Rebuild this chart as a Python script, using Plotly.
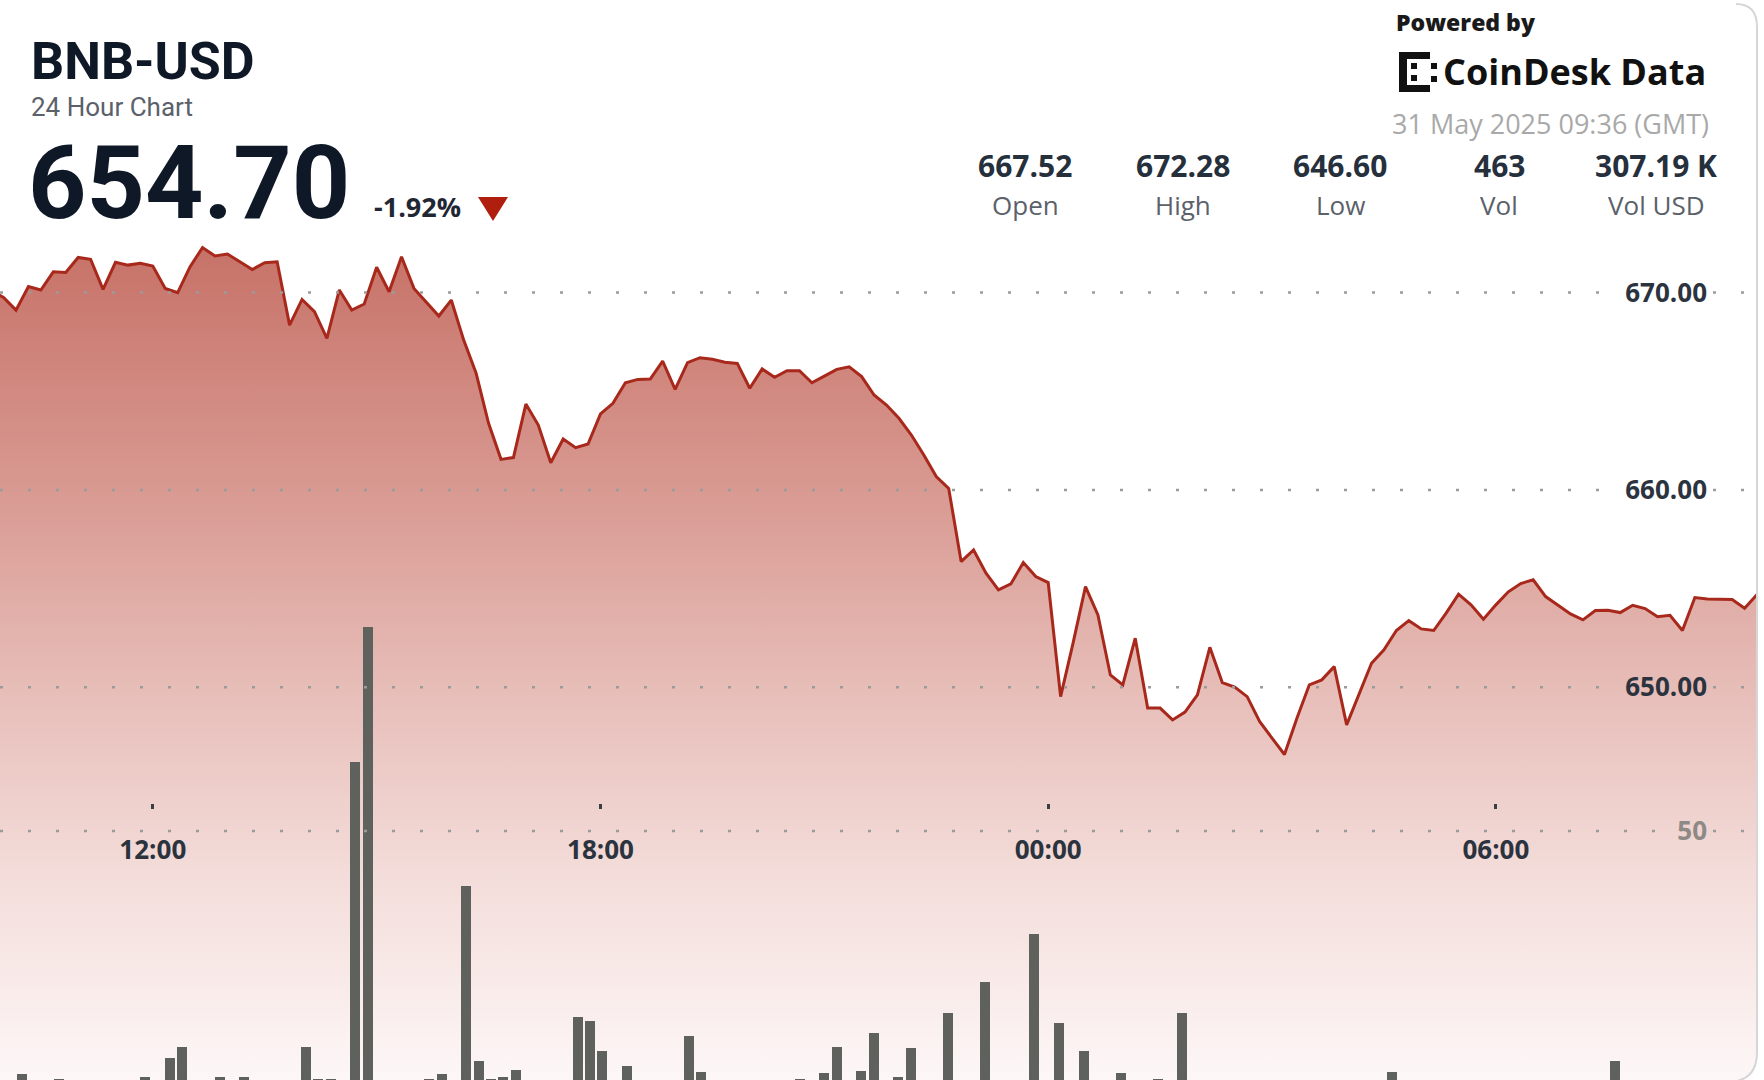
import plotly.graph_objects as go
import pandas as pd

# ---------------- data ----------------
PRICE_START = "2025-05-30 09:50"
PRICE_STEP = "10min"
PRICE = [
    670.10, 669.75,
    669.11, 670.30, 670.13, 671.05, 671.02, 671.78, 671.68, 670.16, 671.53, 671.39,
    671.48, 671.34, 670.21, 669.99, 671.31, 672.28, 671.85, 671.95, 671.56, 671.17,
    671.51, 671.56, 668.35, 669.65, 669.03, 667.68, 670.13, 669.11, 669.42, 671.28,
    670.04, 671.81, 670.21, 669.53, 668.81, 669.62, 667.59, 665.91, 663.38, 661.55,
    661.64, 664.35, 663.29, 661.38, 662.58, 662.14, 662.33, 663.85, 664.39, 665.43,
    665.60, 665.62, 666.53, 665.10, 666.45, 666.70, 666.62, 666.47, 666.41, 665.15,
    666.13, 665.71, 666.04, 666.04, 665.43, 665.77, 666.11, 666.24, 665.74, 664.81,
    664.30, 663.63, 662.78, 661.77, 660.68, 660.08, 656.37, 656.96, 655.78, 654.94,
    655.24, 656.32, 655.61, 655.31, 649.53, 652.24, 655.10, 653.67, 650.63, 650.13,
    652.49, 648.95, 648.95, 648.35, 648.75, 649.62, 652.03, 650.24, 650.01, 649.53,
    648.27, 647.43, 646.60, 648.44, 650.13, 650.38, 651.05, 648.10, 649.62, 651.22,
    651.90, 652.88, 653.38, 652.96, 652.88, 653.76, 654.72, 654.18, 653.45, 654.18,
    654.84, 655.26, 655.45, 654.60, 654.16, 653.72, 653.42, 653.89, 653.91, 653.79,
    654.16, 653.99, 653.58, 653.65, 652.88, 654.55, 654.48, 654.47, 654.45, 654.01,
    654.70,
]

BAR_TIMES = [
    "2025-05-30 10:10", "2025-05-30 10:40", "2025-05-30 11:10", "2025-05-30 11:50",
    "2025-05-30 12:10", "2025-05-30 12:20", "2025-05-30 12:50", "2025-05-30 13:10",
    "2025-05-30 14:00", "2025-05-30 14:10", "2025-05-30 14:20", "2025-05-30 14:40",
    "2025-05-30 14:50", "2025-05-30 15:40", "2025-05-30 15:50", "2025-05-30 16:10",
    "2025-05-30 16:20", "2025-05-30 16:30", "2025-05-30 16:40", "2025-05-30 16:50",
    "2025-05-30 17:20", "2025-05-30 17:40", "2025-05-30 17:50", "2025-05-30 18:00",
    "2025-05-30 18:20", "2025-05-30 18:40", "2025-05-30 19:10", "2025-05-30 19:20",
    "2025-05-30 20:40", "2025-05-30 21:00", "2025-05-30 21:10", "2025-05-30 21:30",
    "2025-05-30 21:40", "2025-05-30 22:00", "2025-05-30 22:10", "2025-05-30 22:40",
    "2025-05-30 23:00", "2025-05-30 23:10", "2025-05-30 23:30", "2025-05-30 23:50",
    "2025-05-31 00:10", "2025-05-31 00:30", "2025-05-31 01:00", "2025-05-31 01:30",
    "2025-05-31 01:50", "2025-05-31 03:30", "2025-05-31 04:40", "2025-05-31 07:20",
    "2025-05-31 07:40",
]
BAR_VOLUMES = [
    2.0, 1.0, 0.8, 1.4,
    5.1, 7.3, 1.4, 1.4,
    7.3, 1.0, 1.0, 63.7,
    90.3, 1.0, 2.0, 39.2,
    4.6, 1.0, 1.4, 2.7,
    0.8, 13.2, 12.4, 6.5,
    3.6, 0.8, 9.5, 2.4,
    1.0, 2.1, 7.4, 2.6,
    10.1, 1.3, 7.2, 14.1,
    0.8, 20.2, 0.8, 29.6,
    12.0, 6.5, 2.2, 1.0,
    14.1, 0.8, 2.4, 0.8,
    4.6,
]

X_TICKS = ["2025-05-30 12:00", "2025-05-30 18:00", "2025-05-31 00:00", "2025-05-31 06:00"]
PRICE_TICKS = [650, 660, 670]
VOLUME_TICKS = [50]

SYMBOL = "BNB-USD"
SUBTITLE = "24 Hour Chart"
LAST_PRICE = "654.70"
CHANGE = "-1.92%"
POWERED = "Powered by"
BRAND = "CoinDesk Data"
TIMESTAMP = "31 May 2025 09:36 (GMT)"
STAT_VALUES = ["667.52", "672.28", "646.60", "463", "307.19 K"]
STAT_LABELS = ["Open", "High", "Low", "Vol", "Vol USD"]

# ---------------- layout constants ----------------
W, H = 1764, 1080
FONT = "Open Sans"
TITLE_FONT = "Roboto"
DARK = "#0e1826"
LINE_RED = "#a8291c"

X_RANGE = ["2025-05-30 09:57:08", "2025-05-31 09:35:36"]
X2_RANGE = ["2025-05-30 09:52:11", "2025-05-31 09:41:06"]
Y_RANGE = [630.11, 684.82]
Y2_RANGE = [0.79, 214.2]


def fx(px):
    return px / W


def fy(py):
    return 1 - py / H


times = pd.date_range(PRICE_START, periods=len(PRICE), freq=PRICE_STEP)

fig = go.Figure()

fig.add_trace(go.Scatter(
    x=times, y=PRICE, mode="lines",
    line=dict(color=LINE_RED, width=3),
    fill="tozeroy",
    fillgradient=dict(
        type="vertical",
        start=Y_RANGE[0], stop=672.3,
        colorscale=[
            [0.0, "rgb(253,247,247)"],
            [0.25, "rgb(243,220,217)"],
            [0.47, "rgb(231,189,184)"],
            [0.71, "rgb(216,153,145)"],
            [1.0, "rgb(199,114,104)"],
        ],
    ),
    hoverinfo="skip", showlegend=False,
    xaxis="x", yaxis="y",
))

fig.add_trace(go.Bar(
    x=pd.to_datetime(BAR_TIMES), y=BAR_VOLUMES,
    width=486000,
    marker=dict(color="#5f625c", line=dict(width=0)),
    hoverinfo="skip", showlegend=False,
    xaxis="x2", yaxis="y2",
))

# ---------------- gridlines (dotted, above fill) ----------------
shapes = []
GRID_DASH = "3px,25px"
for v in PRICE_TICKS:
    for a, b in [(0, 1608), (1713, 1746)]:
        shapes.append(dict(type="line", xref="paper", yref="y",
                           x0=fx(a), x1=fx(b), y0=v, y1=v,
                           line=dict(color="#9b9b9b", width=2.5, dash=GRID_DASH),
                           layer="above"))
for v in VOLUME_TICKS:
    for a, b in [(0, 1664), (1713, 1746)]:
        shapes.append(dict(type="line", xref="paper", yref="y2",
                           x0=fx(a), x1=fx(b), y0=v, y1=v,
                           line=dict(color="#9b9b9b", width=2.5, dash=GRID_DASH),
                           layer="above"))


def path(points, close=False):
    s = ""
    for cmd, pts in points:
        s += cmd + " " + " ".join(f"{fx(x):.5f},{fy(y):.5f}" for x, y in pts) + " "
    if close:
        s += "Z"
    return s


# card corner mask and border
shapes.append(dict(type="path", xref="paper", yref="paper",
                   path=path([("M", [(1757, 1052)]), ("Q", [(1757, 1082), (1727, 1082)]),
                              ("L", [(1764, 1082)]), ("L", [(1764, 1052)])], close=True),
                   fillcolor="white", line=dict(width=0), layer="above"))
shapes.append(dict(type="rect", xref="paper", yref="paper",
                   x0=fx(1758), x1=1, y0=0, y1=1,
                   fillcolor="white", line=dict(width=0), layer="above"))
shapes.append(dict(type="path", xref="paper", yref="paper",
                   path=path([("M", [(1736, 4)]), ("Q", [(1757, 4), (1757, 27)]),
                              ("L", [(1757, 1052)]), ("Q", [(1757, 1082), (1727, 1082)])]),
                   line=dict(color="#d6d6d6", width=2), layer="above"))

# change triangle
shapes.append(dict(type="path", xref="paper", yref="paper",
                   path=path([("M", [(478, 197)]), ("L", [(508, 197)]), ("L", [(493, 221)])], close=True),
                   fillcolor="#b01e0e", line=dict(width=0), layer="above"))

# logo icon blocks
for (x0, y0, x1, y1) in [(1399, 52, 1430, 59), (1399, 85, 1430, 92), (1399, 52, 1407, 92),
                         (1411, 63, 1417, 69), (1411, 75, 1417, 81),
                         (1431, 63, 1437, 69), (1431, 76, 1437, 82)]:
    shapes.append(dict(type="rect", xref="paper", yref="paper",
                       x0=fx(x0), x1=fx(x1), y0=fy(y0), y1=fy(y1),
                       fillcolor="#111111", line=dict(width=0), layer="above"))

# ---------------- text ----------------
ann = []


def text(t, x, y, size, color, weight=400, xanchor="left", family=FONT):
    ann.append(dict(text=t, x=fx(x), y=fy(y), xref="paper", yref="paper",
                    xanchor=xanchor, yanchor="middle", showarrow=False,
                    borderpad=0, borderwidth=0,
                    font=dict(family=family, size=size, color=color, weight=weight)))


text(SYMBOL, 31, 61.2, 52, DARK, 700, family=TITLE_FONT)
text(SUBTITLE, 31, 106.9, 26, "#5b616a", 400, family=TITLE_FONT)
text(LAST_PRICE, 28, 183.2, 102, DARK, 700, family=TITLE_FONT)
text(CHANGE, 374, 207, 27, "#1f2733", 700)
text(POWERED, 1396, 22, 23, "#1a1a1a", 800)
text(BRAND, 1443, 71, 36, "#111111", 700)
text(TIMESTAMP, 1709, 123, 27, "#a9a9a9", 400, xanchor="right")

STAT_X = [1025, 1183, 1340, 1499, 1656]
for sx, v, l in zip(STAT_X, STAT_VALUES, STAT_LABELS):
    text(v, sx, 165, 30, "#26303d", 700, xanchor="center")
    text(l, sx, 205, 26, "#5b616a", 400, xanchor="center")

fig.update_layout(
    width=W, height=H,
    margin=dict(l=0, r=0, t=0, b=0),
    paper_bgcolor="white", plot_bgcolor="rgba(0,0,0,0)",
    showlegend=False, hovermode=False,
    bargap=0,
    xaxis=dict(type="date", range=X_RANGE, anchor="free", position=fy(803),
               tickvals=X_TICKS, tickformat="%H:%M",
               ticks="outside", ticklen=5, tickwidth=3, tickcolor="#3a3f47",
               ticklabelstandoff=19,
               showgrid=False, zeroline=False, showline=False,
               tickfont=dict(family=FONT, size=26, color="#2b333e", weight=700)),
    xaxis2=dict(type="date", range=X2_RANGE, overlaying="x", visible=False),
    yaxis=dict(range=Y_RANGE, anchor="free", position=fx(1707), side="left",
               tickvals=PRICE_TICKS, tickformat=".2f", ticks="",
               showgrid=False, zeroline=False, showline=False,
               tickfont=dict(family=FONT, size=26, color="#2b333e", weight=700)),
    yaxis2=dict(range=Y2_RANGE, overlaying="y", anchor="free", position=fx(1707), side="left",
                tickvals=VOLUME_TICKS, ticks="",
                showgrid=False, zeroline=False, showline=False,
                tickfont=dict(family=FONT, size=26, color="#8e8984", weight=700)),
    shapes=shapes,
    annotations=ann,
)

fig.write_html(
    "out.html",
    config={"displayModeBar": False, "staticPlot": True},
    post_script="document.body.style.margin='0';document.body.style.padding='0';document.body.style.overflow='hidden';",
)
